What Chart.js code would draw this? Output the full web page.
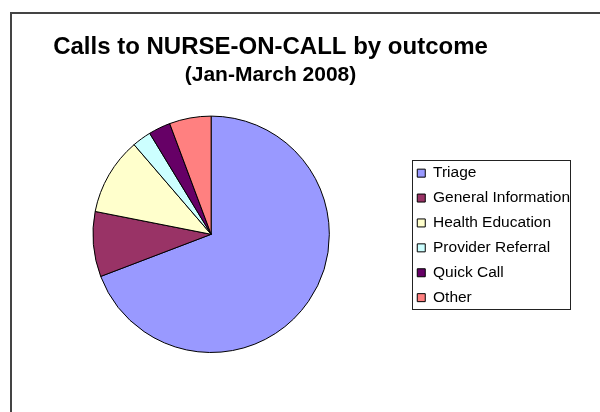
<!DOCTYPE html>
<html>
<head>
<meta charset="utf-8">
<script src="https://cdn.jsdelivr.net/npm/chart.js@4/dist/chart.umd.min.js"></script>
<style>
  html, body { margin: 0; padding: 0; background: #fff; }
  canvas { display: block; }
</style>
</head>
<body>
<canvas id="outcomeChart" width="600" height="412"></canvas>
<script>
// Chart data (share of calls, %)
const outcomes = ['Triage', 'General Information', 'Health Education', 'Provider Referral', 'Quick Call', 'Other'];
const shares = [69.2, 8.9, 10.6, 2.6, 3.0, 5.7];
const sliceColors = ['#9999FF', '#993366', '#FFFFCC', '#CCFFFF', '#660066', '#FF8080'];

const FONT = '"Liberation Sans", Arial, sans-serif';

// Outer frame, legend border, and title/legend placement like the original sheet
const framePlugin = {
  id: 'frame',
  afterLayout(chart) {
    chart.boxes.forEach(b => {
      if (b.position === 'top') { b.left = 10; b.right = 531; }
    });
    // shrink legend box to its items so they sit inside the drawn border
    const lg = chart.legend;
    const pad = lg.options.labels.padding;
    const h = lg.columnSizes[0].height + pad;
    lg.top = 156;
    lg.bottom = 156 + h;
    lg.height = h;
  },
  beforeDraw(chart) {
    const c = chart.ctx;
    c.save();
    c.fillStyle = '#fff';
    c.fillRect(0, 0, chart.width, chart.height);
    c.strokeStyle = '#444';
    c.lineWidth = 2;
    c.beginPath();
    c.moveTo(11, chart.height);
    c.lineTo(11, 13);
    c.lineTo(chart.width, 13);
    c.stroke();
    c.restore();
  },
  afterDraw(chart) {
    const c = chart.ctx;
    c.save();
    c.strokeStyle = '#222';
    c.lineWidth = 1;
    c.strokeRect(412.5, 160.5, 158, 149);
    c.restore();
  }
};

const ctx = document.getElementById('outcomeChart').getContext('2d');

new Chart(ctx, {
  type: 'pie',
  data: {
    labels: outcomes,
    datasets: [{
      data: shares,
      backgroundColor: sliceColors,
      borderColor: '#000',
      borderWidth: 1
    }]
  },
  options: {
    responsive: false,
    animation: false,
    layout: {
      padding: { top: 20, left: 14.4, right: 20, bottom: 59 }
    },
    plugins: {
      title: {
        display: true,
        text: 'Calls to NURSE-ON-CALL by outcome',
        color: '#000',
        font: { family: FONT, size: 24, weight: 'bold' },
        padding: { top: 12.6, bottom: 0 }
      },
      subtitle: {
        display: true,
        text: '(Jan-March 2008)',
        color: '#000',
        font: { family: FONT, size: 21, weight: 'bold' },
        padding: { top: 1, bottom: 28 }
      },
      legend: {
        display: true,
        position: 'right',
        labels: {
          color: '#000',
          font: { family: FONT, size: 15.5 },
          boxWidth: 8,
          boxHeight: 8,
          padding: 9.4
        }
      },
      tooltip: { enabled: false }
    }
  },
  plugins: [framePlugin]
});
</script>
</body>
</html>
